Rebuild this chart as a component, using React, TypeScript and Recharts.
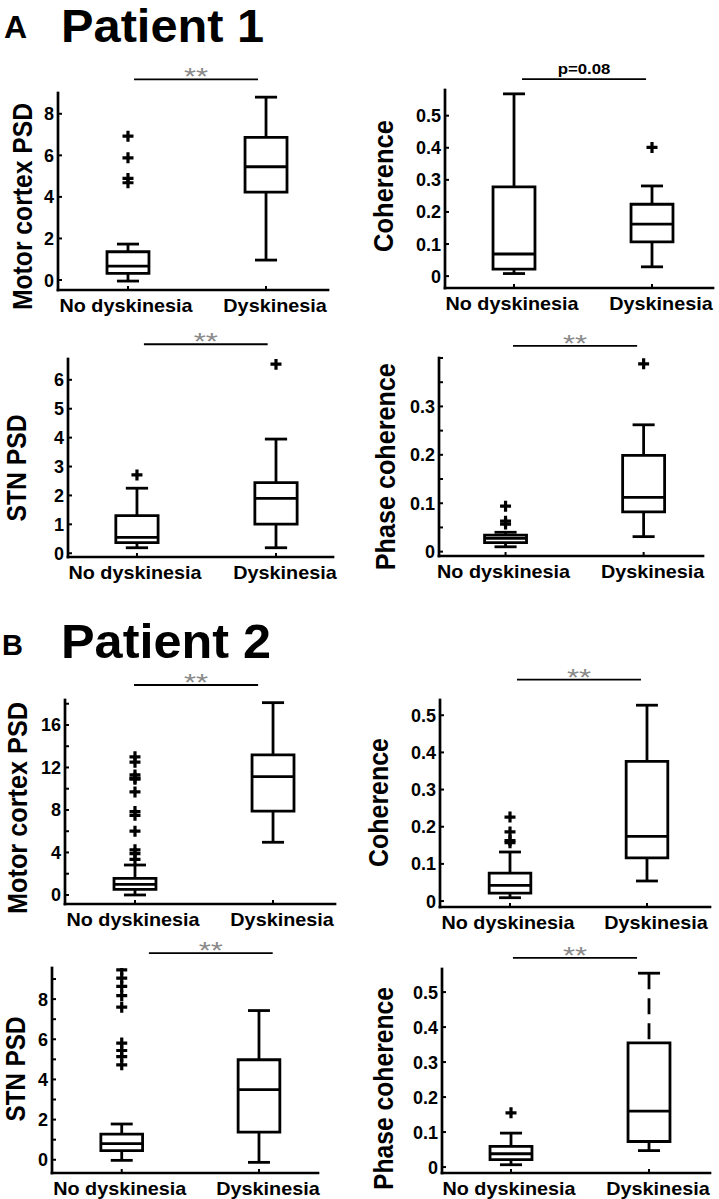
import React from 'react';
import { ComposedChart, XAxis, YAxis, Scatter, ReferenceArea, ReferenceLine } from 'recharts';

const FONT = '"Liberation Sans", Arial, Helvetica, sans-serif';

// categories on the x axis
const categories = ['No dyskinesia', 'Dyskinesia'];
const categoryPositions = [1, 2];

// ---- Patient 1 : [min, q1, median, q3, max] per category ----
const p1MotorStats = [[-0.05, 0.32, 0.67, 1.36, 1.73], [0.96, 4.23, 5.45, 6.86, 8.8]];
const p1MotorOutliers = [[6.92, 5.88, 4.89, 4.68], []];
const p1CohStats = [[0.008, 0.022, 0.069, 0.278, 0.568], [0.029, 0.107, 0.162, 0.224, 0.281]];
const p1CohOutliers = [[], [0.401]];
const p1StnStats = [[0.19, 0.37, 0.55, 1.3, 2.25], [0.19, 1.01, 1.9, 2.44, 3.95]];
const p1StnOutliers = [[2.71], [6.54]];
const p1PhaseStats = [[0.01, 0.0185, 0.0276, 0.034, 0.04], [0.031, 0.082, 0.112, 0.199, 0.262]];
const p1PhaseOutliers = [[0.094, 0.063, 0.057], [0.388]];

// ---- Patient 2 ----
const p2MotorStats = [[0.0, 0.53, 1.0, 1.57, 2.82], [4.96, 7.9, 11.13, 13.18, 18.1]];
const p2MotorOutliers = [[13.0, 12.5, 11.3, 11.0, 10.9, 9.7, 7.85, 7.5, 6.0, 4.25, 3.9, 3.35], []];
const p2CohStats = [[0.009, 0.0215, 0.042, 0.0754, 0.132], [0.054, 0.116, 0.174, 0.376, 0.527]];
const p2CohOutliers = [[0.226, 0.186, 0.163, 0.157], []];
const p2StnStats = [[-0.03, 0.45, 0.8, 1.28, 1.78], [-0.13, 1.38, 3.49, 4.98, 7.43]];
const p2StnOutliers = [[9.46, 9.05, 8.63, 8.17, 7.6, 5.81, 5.44, 5.14, 4.73], []];
const p2PhaseStats = [[0.0066, 0.021, 0.038, 0.059, 0.097], [0.047, 0.073, 0.16, 0.355, 0.554]];
const p2PhaseOutliers = [[0.155], []];

// ---- y-axis ticks (all tick marks) and labelled ticks ----
const ticksP1Motor = [0, 2, 4, 6, 8];
const ticksCoh = [0, 0.1, 0.2, 0.3, 0.4, 0.5];
const ticksP1Stn = [0, 1, 2, 3, 4, 5, 6];
const ticksP1Phase = [0, 0.05, 0.1, 0.15, 0.2, 0.25, 0.3, 0.35, 0.4];
const labelsP1Phase = [0, 0.1, 0.2, 0.3];
const ticksP2Motor = [0, 2, 4, 6, 8, 10, 12, 14, 16, 18];
const labelsP2Motor = [0, 4, 8, 12, 16];
const ticksP2Stn = [0, 1, 2, 3, 4, 5, 6, 7, 8, 9];
const labelsP2Stn = [0, 2, 4, 6, 8];

// ---- significance annotations ----
const sigP1Motor = { x1: 1.044, x2: 1.942, y: 9.66, text: '**' };
const sigP1Coh = { x1: 1.058, x2: 1.957, y: 0.614, text: 'p=0.08' };
const sigP1Stn = { x1: 1.05, x2: 1.94, y: 7.23, text: '**' };
const sigP1Phase = { x1: 1.054, x2: 1.953, y: 0.425, text: '**' };
const sigP2Motor = { x1: 0.993, x2: 1.892, y: 19.76, text: '**' };
const sigP2Coh = { x1: 1.051, x2: 1.956, y: 0.596, text: '**' };
const sigP2Stn = { x1: 1.198, x2: 2.1, y: 10.29, text: '**' };
const sigP2Phase = { x1: 1.014, x2: 1.913, y: 0.598, text: '**' };

const BOX_HALF = 0.152;
const CAP_HALF = 0.08;
const LW = 2.8;
const X_AXIS_H = 26;
const labelShift = [-2, 9];
const axisStyle = { stroke: '#000', strokeWidth: 2.7, strokeLinecap: 'square' as const };

type Sig = { x1: number; x2: number; y: number; text: string };
type Panel = {
  left: number; top: number; width: number;
  plotL: number; plotR: number; plotT: number; plotB: number;
  xDomain: [number, number]; yDomain: [number, number];
  ticks: number[]; labeled: number[];
  stats: number[][]; outliers: number[][];
  sig: Sig; dashed?: boolean;
};

const panels: Panel[] = [
  { left: 0, top: 43, width: 360, plotL: 58, plotR: 328, plotT: 93, plotB: 290, xDomain: [0.493, 2.449], yDomain: [-0.48, 9.0], ticks: ticksP1Motor, labeled: ticksP1Motor, stats: p1MotorStats, outliers: p1MotorOutliers, sig: sigP1Motor },
  { left: 360, top: 40, width: 359, plotL: 445, plotR: 713, plotT: 90, plotB: 288, xDomain: [0.5, 2.442], yDomain: [-0.037, 0.58], ticks: ticksCoh, labeled: ticksCoh, stats: p1CohStats, outliers: p1CohOutliers, sig: sigP1Coh },
  { left: 0, top: 309, width: 360, plotL: 68, plotR: 333, plotT: 359, plotB: 557, xDomain: [0.504, 2.41], yDomain: [-0.13, 6.72], ticks: ticksP1Stn, labeled: ticksP1Stn, stats: p1StnStats, outliers: p1StnOutliers, sig: sigP1Stn },
  { left: 360, top: 308, width: 359, plotL: 439, plotR: 703, plotT: 358, plotB: 556, xDomain: [0.518, 2.43], yDomain: [-0.009, 0.4], ticks: ticksP1Phase, labeled: labelsP1Phase, stats: p1PhaseStats, outliers: p1PhaseOutliers, sig: sigP1Phase },
  { left: 0, top: 650, width: 360, plotL: 65, plotR: 335, plotT: 700, plotB: 904, xDomain: [0.493, 2.449], yDomain: [-0.85, 18.35], ticks: ticksP2Motor, labeled: labelsP2Motor, stats: p2MotorStats, outliers: p2MotorOutliers, sig: sigP2Motor },
  { left: 360, top: 650, width: 359, plotL: 440, plotR: 710, plotT: 700, plotB: 907, xDomain: [0.489, 2.46], yDomain: [-0.016, 0.541], ticks: ticksCoh, labeled: ticksCoh, stats: p2CohStats, outliers: p2CohOutliers, sig: sigP2Coh },
  { left: 0, top: 918, width: 360, plotL: 52, plotR: 318, plotT: 968, plotB: 1173, xDomain: [0.492, 2.43], yDomain: [-0.66, 9.55], ticks: ticksP2Stn, labeled: labelsP2Stn, stats: p2StnStats, outliers: p2StnOutliers, sig: sigP2Stn },
  { left: 360, top: 919, width: 359, plotL: 442, plotR: 710, plotT: 969, plotB: 1173, xDomain: [0.5, 2.442], yDomain: [-0.017, 0.566], ticks: ticksCoh, labeled: ticksCoh, stats: p2PhaseStats, outliers: p2PhaseOutliers, sig: sigP2Phase, dashed: true },
];

const yLabels = [
  { text: 'Motor cortex PSD', bx: 32, cy: 206.5, len: 207 },
  { text: 'Coherence', bx: 393, cy: 186, len: 132 },
  { text: 'STN PSD', bx: 26, cy: 468, len: 107 },
  { text: 'Phase coherence', bx: 395, cy: 466.7, len: 207 },
  { text: 'Motor cortex PSD', bx: 27, cy: 808, len: 212 },
  { text: 'Coherence', bx: 388, cy: 802.5, len: 129 },
  { text: 'STN PSD', bx: 25, cy: 1069, len: 105 },
  { text: 'Phase coherence', bx: 393, cy: 1088.5, len: 203 },
];

function XTick(props: any) {
  const { x, y, payload } = props;
  const idx = categoryPositions.indexOf(payload.value);
  if (idx < 0) return null;
  return (
    <g>
      <line x1={x} x2={x} y1={y} y2={y - 4} stroke="#000" strokeWidth={2} />
      <text
        transform={`translate(${x + labelShift[idx]},${y + 21.5}) scale(1.1,1)`}
        textAnchor="middle"
        fontFamily={FONT}
        fontWeight="bold"
        fontSize={18}
        fill="#000"
      >
        {categories[idx]}
      </text>
    </g>
  );
}

function YTick(props: any) {
  const { x, y, payload, labeled } = props;
  const v = payload.value;
  const show = (labeled as number[]).some((t) => Math.abs(t - v) < 1e-9);
  return (
    <g>
      <line x1={x} x2={x + 4} y1={y} y2={y} stroke="#000" strokeWidth={2} />
      {show && (
        <text x={x - 4} y={y} dy="0.36em" textAnchor="end" fontFamily={FONT} fontWeight="bold" fontSize={18} fill="#000">
          {String(v)}
        </text>
      )}
    </g>
  );
}

function Plus(props: any) {
  const { cx, cy } = props;
  if (cx == null || cy == null) return null;
  const r = 5.5;
  return <path d={`M${cx - r},${cy}H${cx + r}M${cx},${cy - r}V${cy + r}`} stroke="#000" strokeWidth={3.2} fill="none" />;
}

function SigLabel(props: any) {
  const { viewBox, sigText } = props;
  if (!viewBox) return null;
  const cx = viewBox.x + (viewBox.width || 0) / 2;
  const y = viewBox.y;
  if (sigText !== '**') {
    return (
      <text transform={`translate(${cx},${y - 5.5}) scale(1.2,1)`} textAnchor="middle" fontFamily={FONT} fontWeight="bold" fontSize={14} fill="#000">
        {sigText}
      </text>
    );
  }
  return (
    <text transform={`translate(${cx},${y + 6}) scale(1.35,1)`} textAnchor="middle" fontFamily={FONT} fontSize={23} fill="#8a8a8a">
      {sigText}
    </text>
  );
}

function BoxPanel({ p }: { p: Panel }) {
  const height = p.plotB + X_AXIS_H - p.top;
  const margin = { top: p.plotT - p.top, right: p.left + p.width - p.plotR, bottom: 0, left: 0 };
  const yAxisW = p.plotL - p.left;
  const pts = p.outliers.flatMap((vals, i) => vals.map((v) => ({ x: categoryPositions[i], y: v })));
  const dash = p.dashed ? '16 9' : undefined;

  const elements: React.ReactNode[] = [];
  p.stats.forEach((s, i) => {
    const c = categoryPositions[i];
    const [mn, q1, med, q3, mx] = s;
    elements.push(
      <ReferenceLine key={`wu${i}`} segment={[{ x: c, y: mx }, { x: c, y: q3 }]} stroke="#000" strokeWidth={LW} strokeDasharray={dash} />,
      <ReferenceLine key={`wl${i}`} segment={[{ x: c, y: mn }, { x: c, y: q1 }]} stroke="#000" strokeWidth={LW} strokeDasharray={dash} />,
      <ReferenceLine key={`cu${i}`} segment={[{ x: c - CAP_HALF, y: mx }, { x: c + CAP_HALF, y: mx }]} stroke="#000" strokeWidth={LW} />,
      <ReferenceLine key={`cl${i}`} segment={[{ x: c - CAP_HALF, y: mn }, { x: c + CAP_HALF, y: mn }]} stroke="#000" strokeWidth={LW} />,
      <ReferenceArea key={`b${i}`} x1={c - BOX_HALF} x2={c + BOX_HALF} y1={q1} y2={q3} stroke="#000" strokeWidth={LW} fill="#fff" fillOpacity={1} />,
      <ReferenceLine key={`m${i}`} segment={[{ x: c - BOX_HALF, y: med }, { x: c + BOX_HALF, y: med }]} stroke="#000" strokeWidth={LW} />
    );
  });

  return (
    <div style={{ position: 'absolute', left: p.left, top: p.top }}>
      <ComposedChart width={p.width} height={height} margin={margin}>
        <XAxis
          type="number"
          dataKey="x"
          domain={p.xDomain}
          ticks={categoryPositions}
          allowDataOverflow
          height={X_AXIS_H}
          tickSize={0}
          tickMargin={0}
          tickLine={false}
          interval={0}
          axisLine={axisStyle}
          tick={<XTick />}
        />
        <YAxis
          type="number"
          dataKey="y"
          domain={p.yDomain}
          ticks={p.ticks}
          allowDataOverflow
          width={yAxisW}
          tickSize={0}
          tickMargin={0}
          tickLine={false}
          interval={0}
          axisLine={axisStyle}
          tick={<YTick labeled={p.labeled} />}
        />
        {elements}
        <Scatter data={pts} dataKey="y" shape={<Plus />} isAnimationActive={false} />
        <ReferenceLine
          segment={[{ x: p.sig.x1, y: p.sig.y }, { x: p.sig.x2, y: p.sig.y }]}
          stroke="#000"
          strokeWidth={1.8}
          ifOverflow="visible"
          label={<SigLabel sigText={p.sig.text} />}
        />
      </ComposedChart>
    </div>
  );
}

export default function App() {
  return (
    <div style={{ position: 'absolute', left: 0, top: 0, width: 719, height: 1199, background: '#fff', overflow: 'hidden' }}>
      {panels.map((p, i) => (
        <BoxPanel key={i} p={p} />
      ))}
      <svg width={719} height={1199} style={{ position: 'absolute', left: 0, top: 0, pointerEvents: 'none' }}>
        <text x={4} y={38} fontFamily={FONT} fontWeight="bold" fontSize={32} fill="#000">A</text>
        <text transform="translate(61,42) scale(1.06,1)" fontFamily={FONT} fontWeight="bold" fontSize={46} fill="#000">Patient 1</text>
        <text x={2} y={655} fontFamily={FONT} fontWeight="bold" fontSize={29} fill="#000">B</text>
        <text transform="translate(61,658) scale(1.05,1)" fontFamily={FONT} fontWeight="bold" fontSize={48} fill="#000">Patient 2</text>
        {yLabels.map((l, i) => (
          <text
            key={i}
            transform={`translate(${l.bx},${l.cy}) rotate(-90)`}
            textAnchor="middle"
            fontFamily={FONT}
            fontWeight="bold"
            fontSize={28}
            textLength={l.len}
            lengthAdjust="spacingAndGlyphs"
            fill="#000"
          >
            {l.text}
          </text>
        ))}
      </svg>
    </div>
  );
}
